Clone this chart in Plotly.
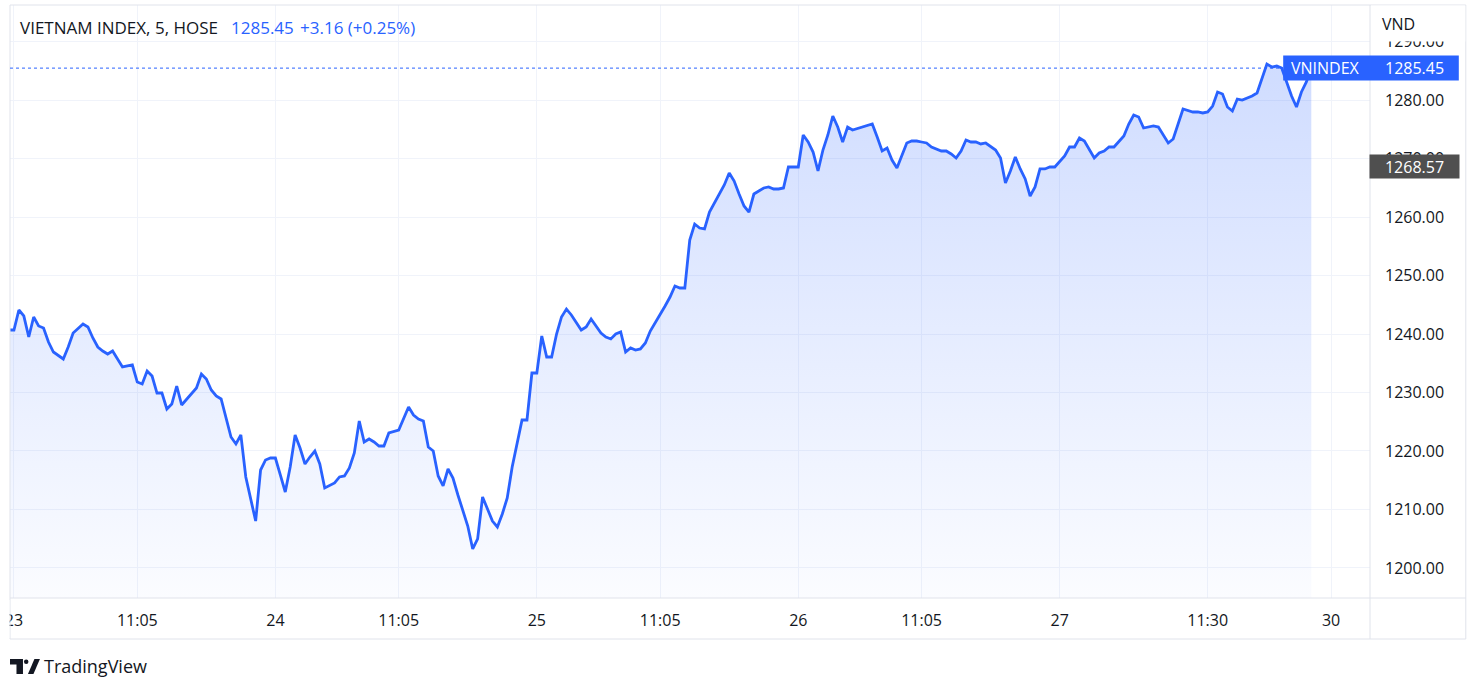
import plotly.graph_objects as go

# 5-minute bars, bar index counted from the first bar of the 23rd
bar = [-1, 0, 1, 2, 3, 4, 5, 6, 7, 8, 10, 11, 12, 13, 14, 15, 16, 17, 18, 19,
       20, 21, 22, 24, 25, 26, 27, 28, 29, 30, 31, 32, 33, 34, 35, 37, 38, 39, 40, 41,
       42, 43, 44, 45, 46, 47, 49, 50, 51, 52, 53, 54, 55, 56, 57, 58, 59, 60, 61, 62,
       63, 65, 66, 67, 68, 69, 70, 71, 72, 73, 74, 75, 76, 78, 79, 80, 81, 82, 83, 84,
       85, 86, 87, 88, 89, 90, 92, 93, 94, 95, 96, 97, 98, 99, 100, 101, 103, 104, 105, 106,
       107, 108, 109, 110, 111, 112, 113, 114, 115, 116, 117, 119, 120, 121, 122, 123, 124, 125, 126, 127,
       128, 129, 130, 132, 133, 134, 135, 136, 137, 138, 139, 140, 141, 142, 144, 145, 146, 147, 148, 149,
       150, 151, 152, 153, 154, 155, 156, 157, 159, 160, 161, 162, 163, 164, 165, 166, 167, 168, 169, 170,
       172, 173, 174, 175, 176, 177, 178, 179, 180, 181, 182, 183, 184, 185, 186, 188, 189, 190, 191, 192,
       193, 194, 195, 196, 197, 199, 200, 201, 202, 203, 204, 205, 206, 207, 208, 209, 210, 211, 213, 214,
       215, 216, 217, 218, 219, 220, 221, 222, 223, 225, 226, 227, 228, 229, 230, 231, 232, 233, 234, 235,
       236, 237, 239, 240, 241, 242, 243, 244, 245, 246, 247, 248, 249, 251, 252, 253, 254, 255, 256, 257,
       258, 259, 260, 261, 262, 263]

close = [1240.68, 1240.68, 1244.10, 1243.08, 1239.49, 1242.91, 1241.37, 1241.03, 1238.63, 1236.92,
         1235.73, 1237.78, 1240.17, 1241.03, 1241.71, 1241.20, 1239.32, 1237.78, 1237.09, 1236.58,
         1237.09, 1235.73, 1234.36, 1234.70, 1231.79, 1231.45, 1233.68, 1232.82, 1229.91, 1229.91,
         1227.18, 1228.03, 1231.11, 1227.86, 1228.89, 1230.77, 1233.16, 1232.31, 1230.43, 1229.40,
         1228.89, 1225.81, 1222.39, 1221.20, 1222.74, 1215.56, 1208.03, 1216.75, 1218.46, 1218.80,
         1218.80, 1215.90, 1212.99, 1217.26, 1222.74, 1220.51, 1217.78, 1218.97, 1220.00, 1217.78,
         1213.68, 1214.53, 1215.56, 1215.73, 1217.09, 1219.66, 1225.13, 1221.54, 1222.05, 1221.54,
         1220.85, 1220.85, 1223.08, 1223.59, 1225.47, 1227.52, 1226.15, 1225.47, 1225.13, 1220.68,
         1220.00, 1215.73, 1214.02, 1216.92, 1215.38, 1212.48, 1207.18, 1203.25, 1204.96, 1212.14,
         1210.09, 1208.03, 1207.01, 1209.23, 1211.97, 1217.26, 1225.30, 1225.30, 1233.33, 1233.33,
         1239.66, 1236.07, 1236.07, 1240.00, 1242.91, 1244.27, 1243.25, 1241.88, 1240.68, 1241.20,
         1242.56, 1240.17, 1239.49, 1239.15, 1240.00, 1240.34, 1236.92, 1237.61, 1237.26, 1237.44,
         1238.46, 1240.51, 1241.88, 1244.79, 1246.32, 1248.21, 1247.86, 1247.86, 1256.07, 1258.80,
         1258.12, 1257.95, 1260.85, 1262.39, 1265.47, 1267.52, 1266.15, 1263.93, 1261.88, 1260.85,
         1263.93, 1264.44, 1264.96, 1265.13, 1264.79, 1264.79, 1264.96, 1268.55, 1268.55, 1274.02,
         1272.82, 1271.11, 1267.86, 1271.45, 1274.02, 1277.26, 1275.38, 1272.82, 1275.38, 1274.87,
         1275.38, 1275.73, 1275.90, 1273.68, 1271.28, 1271.79, 1269.74, 1268.38, 1270.60, 1272.65,
         1272.99, 1272.99, 1272.82, 1272.65, 1271.97, 1271.28, 1271.28, 1270.77, 1270.09, 1271.28,
         1273.16, 1272.82, 1272.82, 1272.48, 1272.65, 1271.45, 1270.09, 1265.81, 1267.86, 1270.26,
         1268.21, 1266.50, 1263.59, 1265.13, 1268.21, 1268.21, 1268.55, 1268.55, 1270.43, 1271.97,
         1271.97, 1273.50, 1272.99, 1271.45, 1270.09, 1270.94, 1271.28, 1271.97, 1271.97, 1273.85,
         1275.90, 1277.44, 1277.09, 1275.21, 1275.38, 1275.56, 1275.38, 1274.02, 1272.65, 1273.33,
         1275.73, 1278.46, 1277.95, 1277.95, 1277.78, 1277.95, 1278.97, 1281.37, 1281.03, 1278.80,
         1278.12, 1280.17, 1280.00, 1280.68, 1281.20, 1283.59, 1286.15, 1285.64, 1285.81, 1285.47,
         1282.91, 1280.68, 1278.80, 1281.37, 1283.08, 1285.45]

tick_bars = [0, 25, 53, 78, 106, 131, 159, 184, 212, 242, 267]
tick_text = ["23", "11:05", "24", "11:05", "25", "11:05", "26", "11:05", "27", "11:30", "30"]
price_ticks = [1200, 1210, 1220, 1230, 1240, 1250, 1260, 1270, 1280, 1290]

last_price = 1285.45
marked_price = 1268.57
y_range = [1194.87, 1296.24]

BLUE = "#2962ff"
TEXT = "#131722"
GRID = "#f0f3fa"
BORDER = "#e0e3eb"
FONT = "Open Sans"

# plot area in page pixels
L, R, T, B = 7, 1370, 5, 598


def px(x):
    return (x - L) / (R - L)


def py(y):
    return (B - y) / (B - T)


def pv(v):
    return (v - y_range[0]) / (y_range[1] - y_range[0])


fig = go.Figure()

fig.add_trace(go.Scatter(
    x=bar, y=close, mode="lines",
    line=dict(color=BLUE, width=2.8),
    fill="tozeroy",
    fillgradient=dict(
        type="vertical",
        colorscale=[[0, "rgba(41,98,255,0.02)"], [1, "rgba(41,98,255,0.23)"]],
        start=1195, stop=1290,
    ),
    hoverinfo="skip",
))

shapes = []
# frame and pane separators
for x0, y0, x1, y1 in [(7, 5, 1466, 5), (7, 639, 1466, 639), (7, 5, 7, 639),
                       (1466, 5, 1466, 639), (1370, 5, 1370, 639), (7, 598, 1466, 598)]:
    shapes.append(dict(type="line", xref="paper", yref="paper",
                       x0=px(x0), y0=py(y0), x1=px(x1), y1=py(y1),
                       line=dict(color=BORDER, width=1), layer="above"))

# hide the clipped label edges
shapes.append(dict(type="rect", xref="paper", yref="paper", x0=px(0), x1=px(6.5),
                   y0=py(600), y1=py(638), fillcolor="white", line_width=0, layer="above"))
shapes.append(dict(type="rect", xref="paper", yref="paper", x0=px(1371), x1=px(1465.5),
                   y0=py(5.5), y1=py(41.5), fillcolor="white", line_width=0, layer="above"))

# last price line and label box
shapes.append(dict(type="line", xref="paper", yref="paper", x0=0, x1=px(1283),
                   y0=pv(last_price), y1=pv(last_price),
                   line=dict(color=BLUE, width=1, dash="dot"), layer="above"))
shapes.append(dict(type="rect", xref="paper", yref="paper", x0=px(1283), x1=px(1459),
                   y0=pv(last_price) - 12.5 / (B - T), y1=pv(last_price) + 12.5 / (B - T),
                   fillcolor=BLUE, line_width=0, layer="above"))

# TradingView logo
def path(points):
    return "M " + " L ".join(f"{px(a)},{py(b)}" for a, b in points) + " Z"


shapes.append(dict(type="path", xref="paper", yref="paper",
                   path=path([(7, 659), (20, 659), (20, 674), (13.5, 674), (13.5, 664.5), (7, 664.5)]),
                   fillcolor=TEXT, line_width=0))
shapes.append(dict(type="circle", xref="paper", yref="paper", x0=px(21), x1=px(25.5),
                   y0=py(664), y1=py(659.5), fillcolor=TEXT, line_width=0))
shapes.append(dict(type="path", xref="paper", yref="paper",
                   path=path([(25, 674), (30.5, 674), (37, 659), (31.5, 659)]),
                   fillcolor=TEXT, line_width=0))

# left-anchored texts; annotation boxes add ~3 px of padding on the left
annotations = [
    dict(text="VIETNAM INDEX, 5, HOSE", x=px(15), y=py(27), font=dict(color=TEXT, size=17)),
    dict(text="1285.45", x=px(226), y=py(27), font=dict(color=BLUE, size=17)),
    dict(text="+3.16 (+0.25%)", x=px(296), y=py(27), font=dict(color=BLUE, size=17)),
    dict(text="VND", x=px(1380), y=py(24), font=dict(color=TEXT)),
    dict(text="VNINDEX", x=px(1289), y=pv(last_price), font=dict(color="white")),
    dict(text=f"{last_price:.2f}", x=px(1383), y=pv(last_price), font=dict(color="white")),
    dict(text="TradingView", x=px(39), y=py(666), font=dict(color=TEXT, size=18)),
]
for a in annotations:
    a.update(xref="paper", yref="paper", xanchor="left", yanchor="middle", showarrow=False)
    a["font"] = dict(family=FONT, size=a["font"].get("size", 16), color=a["font"]["color"])

annotations.append(dict(
    text=f"{marked_price:.2f}", xref="paper", yref="paper", x=px(1414.5), y=pv(marked_price),
    xanchor="center", yanchor="middle", showarrow=False, bgcolor="#4f4f4f",
    width=87, height=21, borderpad=1, font=dict(family=FONT, size=16, color="white"),
))

fig.update_layout(
    width=1481, height=693,
    margin=dict(l=L, r=1481 - R, t=T, b=693 - B),
    paper_bgcolor="white", plot_bgcolor="white",
    showlegend=False,
    font=dict(family=FONT, size=16, color=TEXT),
    xaxis=dict(range=[-0.8, 274.9], tickvals=tick_bars, ticktext=tick_text,
               showgrid=True, gridcolor=GRID, zeroline=False, showline=False,
               ticks="", ticklabelstandoff=11, tickfont=dict(size=16, color=TEXT)),
    yaxis=dict(range=y_range, side="right", tickvals=price_ticks, tickformat=".2f",
               showgrid=True, gridcolor=GRID, zeroline=False, showline=False,
               ticks="", ticklabelstandoff=14, tickfont=dict(size=16, color=TEXT)),
    shapes=shapes,
    annotations=annotations,
)

# the page's default body margin would push the figure off by 8 px
fig.write_html("out.html", config={"displayModeBar": False},
               post_script="document.body.style.margin = '0';")
